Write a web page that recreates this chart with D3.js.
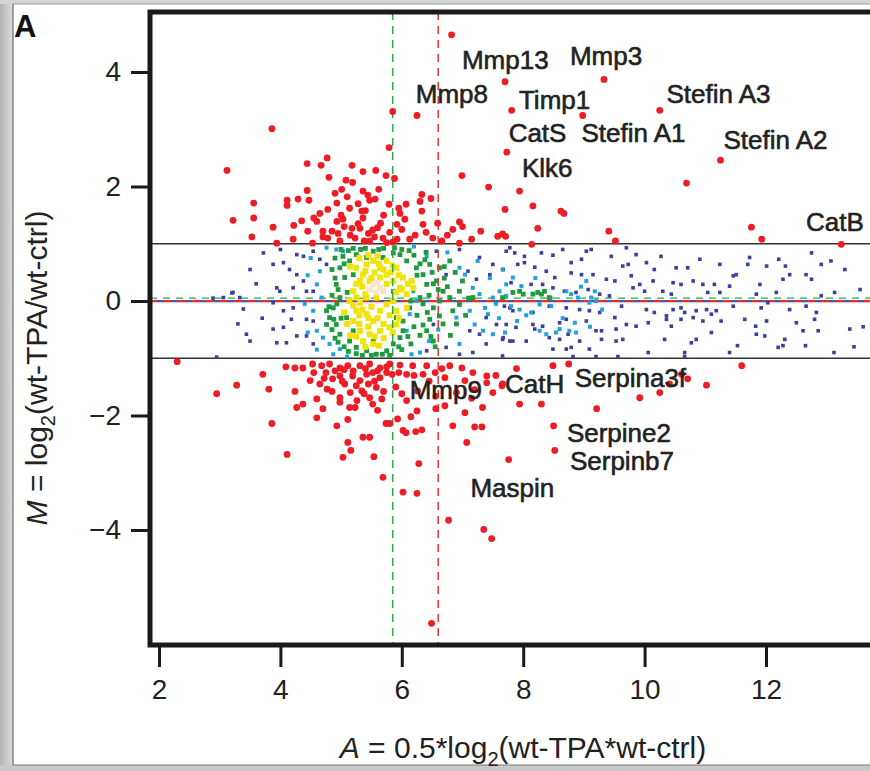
<!DOCTYPE html>
<html>
<head>
<meta charset="utf-8">
<script src="https://cdn.jsdelivr.net/npm/d3@7"></script>
<style>
  body { margin:0; background:#fff; }
  text { font-family: "Liberation Sans", Arial, sans-serif; }
</style>
</head>
<body>
<div id="plot"></div>
<script>
// MA plot, wt-TPA vs wt-ctrl

// significant genes (|M| > 1), [A, M]
var redPts = [
 [6.82,4.65],[7.70,3.83],[9.33,3.87],[7.81,3.33],[8.98,3.24],[10.25,3.33],[7.73,2.60],[11.25,2.46],
 [10.69,2.06],[7.94,1.92],[7.70,1.60],[8.16,1.66],[8.62,1.57],[8.67,1.53],[8.24,1.27],[7.66,1.17],
 [7.71,1.13],[8.14,0.99],[9.41,1.22],[9.52,1.05],[11.76,1.29],[11.93,1.08],[13.24,0.99],
 [5.85,3.31],[6.25,3.24],[3.86,3.01],[5.79,2.68],[3.12,2.28],[6.99,2.19],[7.43,1.99],
 [4.44,2.40],[4.67,2.37],[4.77,2.50],[5.18,2.37],[5.36,2.26],[5.57,2.28],[5.74,2.19],[5.88,2.14],
 [4.80,2.16],[5.08,2.11],[5.19,2.07],[5.01,1.95],[4.44,1.93],[5.36,1.92],[5.44,1.85],[4.11,1.76],
 [4.29,1.78],[4.47,1.76],[4.93,1.71],[5.47,1.76],[5.56,1.78],[3.56,1.71],[6.33,1.86],[6.48,1.79],
 [6.30,1.74],[5.79,1.69],[6.07,1.69],[4.11,1.67],[4.65,1.53],[4.78,1.60],[5.14,1.62],[5.34,1.57],
 [5.97,1.53],[6.33,1.57],[3.22,1.41],[3.56,1.45],[4.60,1.39],[4.93,1.39],[5.03,1.43],[5.36,1.45],
 [5.65,1.36],[5.92,1.34],[6.35,1.34],[6.59,1.36],[6.95,1.38],[3.88,1.29],[4.22,1.32],[4.45,1.22],
 [4.70,1.22],[5.18,1.27],[5.31,1.27],[5.52,1.24],[6.84,1.25],[7.30,1.22],[3.53,1.12],[3.94,1.01],
 [4.21,1.08],[4.53,1.01],[4.78,1.10],[4.98,1.05],[5.23,1.10],[5.47,1.05],[5.69,1.10],[5.92,1.08],
 [6.13,1.08],[6.51,1.10],[6.66,1.05],[6.95,1.01],[7.58,1.13],
 [4.85,1.22],[5.05,1.30],[5.28,1.35],[5.45,1.18],[5.60,1.28],[5.80,1.20],[6.00,1.25],[4.70,1.12],
 [5.15,1.15],[5.38,1.05],[5.55,1.12],[5.85,1.03],[6.22,1.15],[6.40,1.20],[6.05,1.43],[5.70,1.50],
 [5.40,1.58],[5.00,1.50],[4.55,1.45],[6.75,1.15],[7.00,1.30],[7.15,1.08],[5.10,1.82],[5.62,1.95],
 [4.90,1.88],[5.28,1.70],[5.95,1.62],[4.35,1.40],[4.95,1.18],[5.75,1.02],
 [2.30,-1.06],[2.95,-1.62],[3.28,-1.47],[3.71,-1.28],[3.81,-1.54],[3.86,-2.14],[4.11,-2.68],
 [4.09,-1.15],[4.24,-1.17],[4.37,-1.17],[4.24,-1.58],[4.27,-1.86],[4.37,-1.80],[4.60,-2.04],
 [4.60,-1.71],[4.70,-1.88],[4.53,-1.10],[4.68,-1.13],[4.81,-1.10],[4.98,-1.17],[5.11,-1.13],
 [5.31,-1.13],[5.47,-1.10],[5.64,-1.17],[5.80,-1.10],[5.97,-1.12],[6.08,-1.28],[6.18,-1.13],
 [6.41,-1.13],[6.35,-1.28],[4.49,-1.39],[4.65,-1.45],[4.77,-1.54],[4.86,-1.36],[4.98,-1.31],
 [5.06,-1.45],[5.19,-1.31],[5.31,-1.39],[5.42,-1.28],[5.52,-1.25],[5.64,-1.34],[5.75,-1.25],
 [5.84,-1.28],[4.98,-1.69],[4.98,-1.77],[5.14,-1.86],[5.23,-1.86],[5.26,-1.74],[5.34,-1.57],
 [5.47,-1.69],[5.52,-1.80],[5.58,-1.51],[5.60,-1.91],[5.67,-1.71],[5.11,-2.07],[4.93,-2.18],
 [5.11,-2.47],[5.16,-2.61],[5.03,-2.73],[5.36,-2.38],[5.47,-2.38],[5.54,-2.72],[5.69,-3.08],
 [5.74,-2.14],[5.80,-2.14],[5.93,-2.06],[6.02,-2.26],[6.07,-2.30],[6.23,-2.28],[6.33,-2.25],
 [6.15,-2.02],[6.25,-1.92],[6.00,-1.62],[6.08,-1.74],[6.26,-1.57],[6.56,-1.88],[6.71,-1.83],
 [6.84,-2.18],[7.04,-1.95],[7.07,-2.47],[7.20,-2.20],[7.32,-2.20],[7.33,-1.86],[7.76,-2.77],
 [6.28,-2.84],[6.02,-3.34],[6.25,-3.36],[6.77,-3.83],[7.35,-3.99],[7.48,-4.15],[6.49,-5.63],
 [6.66,-1.18],[6.79,-1.13],[6.99,-1.17],[7.17,-1.25],[7.04,-1.39],[7.40,-1.31],[7.40,-1.43],
 [7.50,-1.60],[7.65,-1.48],[6.71,-1.34],[6.56,-1.66],
 [7.89,-1.18],[7.66,-1.45],[7.94,-1.80],[8.30,-1.80],[8.49,-1.13],[8.75,-1.10],[8.50,-2.18],
 [8.52,-2.61],[9.21,-1.88],[9.92,-1.69],[10.25,-1.60],[10.41,-1.45],[10.61,-1.28],[10.71,-1.36],
 [11.02,-1.47],[11.60,-1.13],
 [4.75,-1.25],[4.90,-1.22],[5.05,-1.20],[5.20,-1.22],[5.40,-1.18],[5.60,-1.22],[5.75,-1.15],
 [5.95,-1.25],[6.20,-1.30],[6.45,-1.40],[4.55,-1.25],[4.85,-1.58],[5.15,-1.60],[5.45,-1.45],
 [5.70,-1.58],[5.90,-1.50],[6.55,-1.25],[7.20,-1.55],[7.55,-1.30],[6.90,-1.60],[7.15,-1.70],
 [5.25,-1.48],[5.38,-1.62],[5.02,-1.40],[4.72,-1.35],[5.55,-1.40]
];

// non-significant genes, coloured by point density
var bluePts = [
 [7.72,0.87],[7.86,0.84],[8.02,0.78],[8.30,0.84],[8.49,0.80],[8.65,0.90],[8.79,0.67],[8.96,0.73],
 [9.04,0.87],[9.12,0.90],[9.45,0.78],[9.70,0.93],[9.86,0.81],[10.03,0.67],[10.27,0.78],[10.16,0.55],
 [10.52,0.58],[10.71,0.58],[10.91,0.73],[11.24,0.64],[11.46,0.44],[11.70,0.64],[11.73,0.76],
 [12.01,0.61],[12.21,0.73],[12.32,0.61],[12.39,0.46],[12.75,0.84],[12.91,0.64],[13.07,0.70],
 [12.66,0.46],[12.75,0.38],[7.91,0.64],[8.02,0.67],[8.19,0.59],[8.38,0.52],[8.52,0.41],[8.79,0.49],
 [8.96,0.46],[9.15,0.46],[9.37,0.38],[9.51,0.35],[9.64,0.61],[9.73,0.64],[9.78,0.44],[9.92,0.29],
 [10.00,0.17],[10.14,0.35],[10.30,0.17],[10.44,0.12],[10.60,0.29],[10.80,0.35],[10.96,0.29],
 [11.15,0.29],[11.04,0.15],[11.24,0.15],[11.40,0.26],[11.51,0.46],[11.90,0.29],[11.84,0.12],
 [12.17,0.15],[12.28,0.38],[13.13,0.15],[12.91,0.09],[7.80,0.32],[8.13,0.29],[8.32,0.29],
 [8.49,0.23],[8.68,0.17],[8.87,0.15],[9.07,0.20],[9.26,0.12],[9.42,0.09],[9.81,0.23],[10.47,0.32],
 [7.69,-0.09],[7.83,-0.17],[8.16,-0.20],[8.43,-0.09],[8.71,-0.12],[8.93,-0.15],[9.09,-0.17],
 [9.26,-0.20],[9.51,-0.29],[9.62,-0.09],[10.03,-0.15],[10.16,-0.20],[10.36,-0.26],[10.47,-0.15],
 [10.60,-0.12],[10.66,-0.20],[10.85,-0.17],[11.02,-0.15],[11.18,-0.17],[11.46,-0.09],[11.65,-0.32],
 [11.92,-0.12],[12.03,-0.03],[12.39,-0.15],[12.50,-0.38],[12.66,-0.09],[12.83,-0.20],[12.80,-0.32],
 [13.38,-0.49],[7.72,-0.41],[7.88,-0.46],[8.16,-0.41],[8.19,-0.49],[8.32,-0.44],[8.60,-0.38],
 [8.71,-0.32],[9.04,-0.35],[9.20,-0.52],[9.29,-0.52],[9.53,-0.49],[9.70,-0.41],[9.86,-0.44],
 [10.06,-0.38],[10.36,-0.32],[10.44,-0.44],[10.60,-0.32],[10.80,-0.29],[10.96,-0.35],[11.10,-0.23],
 [11.26,-0.35],[11.83,-0.44],[12.01,-0.35],[11.84,-0.58],[11.98,-0.61],[12.31,-0.67],[12.61,-0.52],
 [12.86,-0.52],[7.66,-0.67],[7.83,-0.70],[8.05,-0.70],[8.43,-0.64],[8.60,-0.67],[8.74,-0.58],
 [8.93,-0.70],[9.29,-0.67],[9.53,-0.70],[9.64,-0.67],[10.33,-0.67],[10.77,-0.73],[10.85,-0.67],
 [11.10,-0.55],[11.53,-0.78],[12.20,-0.81],[12.28,-0.78],[12.65,-0.78],[13.12,-0.90],[8.49,-0.84],
 [8.71,-0.84],[8.79,-0.81],[9.09,-0.84],[9.20,-0.97],[9.56,-0.97],[10.06,-0.90],[10.66,-0.90],
 [10.66,-0.97],[11.40,-0.90],[8.82,-0.97],[7.66,-0.96],
 [3.72,0.84],[3.50,0.55],[3.88,0.64],[4.05,0.67],[4.27,0.81],[4.38,0.78],[4.54,0.87],[4.65,0.73],
 [4.76,0.64],[4.27,0.46],[4.38,0.35],[3.94,0.23],[3.99,0.17],[4.21,0.23],[4.43,0.17],[4.54,0.17],
 [3.22,0.15],[3.06,0.06],[3.33,0.06],[3.39,-0.14],[3.88,-0.03],[4.05,-0.17],[4.21,-0.12],
 [4.18,-0.32],[4.43,-0.32],[4.54,-0.35],[4.05,-0.46],[3.88,-0.49],[3.44,-0.58],[3.50,-0.70],
 [3.94,-0.73],[4.10,-0.73],[4.27,-0.61],[4.43,-0.61],[4.54,-0.75],[2.95,-0.98],[6.57,0.87],
 [6.95,0.90],[7.28,0.76],[7.50,0.64],[7.67,0.55],[7.78,0.93],[6.73,0.46],[7.09,0.52],[7.23,0.38],
 [7.45,0.46],[7.78,-0.12],[7.39,-0.29],[7.56,-0.41],[7.12,-0.52],[7.28,-0.58],[7.39,-0.75],
 [7.17,-0.90],[6.95,-0.93],[7.67,-0.64],[7.78,-0.70],[6.52,-0.41],[6.73,-0.81],[6.41,-0.87],
 [2.89,0.05],[3.20,0.14],[3.60,0.30],[3.70,-0.30],[3.30,-0.40],[4.15,0.55],[4.00,0.90],
 [13.55,0.20],[13.60,-0.45],[13.30,0.55],[13.45,-0.80]
];

var cyanPts = [
 [7.66,0.55],[7.83,0.41],[7.72,0.09],[7.97,0.26],[7.80,-0.09],[7.94,-0.15],[8.13,-0.20],
 [8.27,-0.06],[8.46,-0.09],[8.38,-0.58],[8.54,-0.55],[8.76,-0.52],[8.87,-0.55],[8.85,-0.38],
 [9.09,-0.03],[9.18,0.17],[9.04,0.35],[8.71,0.17],[8.79,0.12],[8.90,0.06],[9.12,0.06],[9.20,0.00],
 [8.27,-0.52],[8.60,-0.49],
 [4.76,0.93],[4.92,0.90],[5.03,0.87],[4.65,0.52],[4.60,0.29],[4.68,0.06],[4.54,-0.17],[4.60,-0.52],
 [4.70,-0.64],[4.81,-0.75],[4.87,-0.93],[4.98,-0.84],[6.19,0.17],[6.24,0.00],[6.13,-0.23],
 [6.08,-0.52],[6.16,-0.93],[6.41,0.78],[6.95,0.58],[7.04,0.46],[7.17,0.23],[7.28,0.12],
 [7.37,-0.12],[7.42,-0.23],[7.20,-0.41],[7.12,-0.17],[6.90,-0.29],[7.50,0.06],[7.61,0.17],
 [7.72,0.29],[7.34,-0.52],[7.50,-0.58],
 [4.50,0.75],[4.45,0.45],[4.40,-0.05],[4.45,-0.55],[4.60,-0.85],[5.10,-0.97],[6.30,-0.90],
 [6.45,-0.70],[6.60,-0.50],[7.25,0.70],[7.45,0.40],[7.55,-0.05],[7.60,-0.30],[7.70,-0.55],
 [7.90,-0.35],[8.05,-0.25],[8.20,0.40],[8.45,0.05],[8.65,-0.30],[8.95,0.25],[9.10,-0.45],
 [9.30,-0.15],[6.20,0.95],[6.75,0.85],[6.95,-0.75]
];

var greenPts = [
 [7.66,0.06],[7.83,0.15],[7.94,0.17],[8.00,0.12],[8.16,0.12],[8.24,0.15],[8.30,0.12],[8.35,0.17],
 [8.43,0.06],
 [5.03,0.78],[5.14,0.70],[5.25,0.81],[4.98,0.58],[5.06,0.41],[4.92,0.29],[5.20,0.46],[4.98,0.06],
 [4.87,-0.12],[4.81,-0.29],[4.92,-0.41],[4.98,-0.58],[5.14,-0.70],[5.25,-0.81],[5.42,-0.87],
 [5.58,-0.93],[5.75,-0.87],[5.86,-0.75],[5.97,-0.64],[6.02,-0.52],[6.02,-0.35],[6.13,-0.12],
 [6.30,0.06],[6.41,0.29],[6.35,0.46],[6.24,0.58],[6.08,0.70],[5.97,0.81],[5.86,0.84],[5.69,0.76],
 [5.53,0.87],[5.42,0.76],[6.46,0.64],[6.57,0.35],[6.68,0.17],[6.62,0.00],[6.52,-0.12],[6.46,-0.32],
 [6.62,-0.26],[6.84,-0.17],[6.95,-0.06],[6.79,0.06],[4.76,-0.17],[4.76,-0.41],[5.09,-0.29],
 [5.20,-0.52],[5.53,-0.70],[5.91,-0.29],[5.86,0.17],[7.17,0.06],[6.95,0.17],[6.52,-0.70],
 [6.41,-0.52],[6.62,0.58],[6.79,0.70],
 [4.85,0.55],[4.90,0.75],[5.00,0.90],[5.20,0.92],[5.40,0.92],[5.70,0.92],[6.00,0.90],[6.20,0.80],
 [6.30,0.65],[6.50,0.50],[6.70,0.40],[6.60,0.20],[6.45,0.10],[6.35,-0.05],[6.25,-0.25],
 [6.20,-0.45],[6.30,-0.60],[6.15,-0.75],[6.00,-0.85],[5.80,-0.95],[5.50,-0.95],[5.25,-0.92],
 [5.05,-0.80],[4.90,-0.65],[4.85,-0.50],[4.80,-0.10],[4.85,0.10],[4.90,0.40],[7.00,0.35],
 [7.10,0.05],[6.90,-0.40],[6.80,-0.60],[7.05,-0.25],[6.55,-0.80],[6.70,0.60],[6.40,0.85],
 [5.10,0.15],[5.00,-0.30],[6.15,0.00],[6.25,0.45],
 [5.12,0.88],[5.32,0.90],[5.62,0.90],[5.88,0.93],[6.12,0.88],[6.38,0.72],[6.52,0.30],
 [6.42,-0.20],[6.35,-0.42],[6.10,-0.62],[5.95,-0.80],[5.68,-0.93],[5.35,-0.95],[5.12,-0.88],
 [4.95,-0.72],[4.88,-0.32],[4.93,-0.05],[4.95,0.20],[5.05,0.65],[6.48,-0.62],[6.68,-0.40],
 [6.75,0.25],[6.88,0.50]
];

var yellowPts = [
 [5.25,0.58],[5.42,0.64],[5.53,0.70],[5.64,0.58],[5.75,0.46],[5.86,0.35],[5.97,0.23],[6.08,0.12],
 [6.02,0.41],[5.91,0.58],[5.31,0.35],[5.20,0.17],[5.14,0.00],[5.25,-0.17],[5.20,-0.35],[5.31,-0.52],
 [5.47,-0.58],[5.64,-0.52],[5.80,-0.46],[5.91,-0.41],[5.53,-0.35],[5.42,-0.23],[5.64,-0.17],
 [5.75,-0.06],[5.86,0.00],[5.58,0.06],[5.42,0.06],[5.31,-0.03],[5.47,0.35],[5.36,0.46],[6.08,-0.12],
 [6.16,0.35],[6.19,0.23],[5.91,-0.17],[5.53,-0.75],[5.36,-0.70],[5.25,0.06],[5.64,0.41],
 [5.30,0.75],[5.45,0.80],[5.60,0.78],[5.75,0.70],[5.85,0.62],[5.40,0.52],[5.55,0.50],[5.70,0.55],
 [5.82,0.50],[5.95,0.45],[6.10,0.30],[6.00,0.20],[5.35,0.25],[5.25,0.30],[5.40,0.12],[5.75,0.30],
 [5.90,0.15],[5.15,0.60],[5.50,0.40],[5.62,0.65],
 [5.05,-0.20],[5.10,-0.40],[5.15,-0.60],[5.30,-0.40],[5.35,-0.15],[5.45,-0.45],[5.50,-0.10],
 [5.55,-0.62],[5.60,-0.30],[5.70,-0.40],[5.70,-0.65],[5.80,-0.25],[5.85,-0.55],[5.25,-0.62],
 [5.40,-0.80],[5.62,-0.78],[5.95,-0.30],[5.30,-0.25],[5.45,-0.30],[5.20,-0.08]
];

var creamPts = [[5.53,0.29],[5.64,0.23],[5.58,0.15],[5.47,0.20],[5.69,0.17],[5.60,0.32]];

// labelled genes: name, A, M of text anchor
var geneNames = ["Mmp13","Mmp3","Mmp8","Timp1","Stefin A3","CatS","Stefin A1","Stefin A2","Klk6","CatB",
                 "Mmp9","CatH","Serpina3f","Serpine2","Serpinb7","Maspin"];
var geneA = [6.99,8.77,6.23,7.93,10.36,7.76,8.96,11.30,7.98,12.66,6.13,7.70,8.85,8.72,8.77,7.13];
var geneM = [4.06,4.13,3.45,3.36,3.45,2.77,2.77,2.65,2.16,1.22,-1.71,-1.60,-1.51,-2.46,-2.96,-3.43];

var xTicks = [2,4,6,8,10,12];
var yTicks = [-4,-2,0,2,4];
var cutoffA = [5.85, 6.6];   // green, red vertical cutoffs
var foldM = [-1, 1];

var W = 870, H = 771;
var box = {l:150, t:12, b:645, r:905};

var svg = d3.select('#plot').append('svg')
    .attr('width', W).attr('height', H);

// frame of the slide
svg.append('rect').attr('x',0).attr('y',0).attr('width',W).attr('height',H).attr('fill','#fff');
var grad = svg.append('defs').append('linearGradient').attr('id','side');
grad.append('stop').attr('offset','0%').attr('stop-color','#b4b4b4');
grad.append('stop').attr('offset','100%').attr('stop-color','#dcdcdc');
svg.append('rect').attr('x',0).attr('y',0).attr('width',13).attr('height',H).attr('fill','url(#side)');
svg.append('rect').attr('x',0).attr('y',0).attr('width',W).attr('height',4).attr('fill','#d4d4d4');
svg.append('rect').attr('x',0).attr('y',765).attr('width',W).attr('height',6).attr('fill','#c8c8c8');
svg.append('line').attr('x1',13).attr('x2',13).attr('y1',4).attr('y2',765).attr('stroke','#666').attr('stroke-width',1.2);
svg.append('line').attr('x1',13).attr('x2',W).attr('y1',4).attr('y2',4).attr('stroke','#999').attr('stroke-width',1);
svg.append('line').attr('x1',13).attr('x2',W).attr('y1',765).attr('y2',765).attr('stroke','#777').attr('stroke-width',1);

var x = d3.scaleLinear().domain([2,12]).range([159,766]);
var y = d3.scaleLinear().domain([-4,4]).range([530,72]);

var plot = svg.append('g');
plot.append('clipPath').attr('id','clip').append('rect')
    .attr('x',box.l).attr('y',box.t).attr('width',box.r-box.l).attr('height',box.b-box.t);
var inner = plot.append('g').attr('clip-path','url(#clip)');

// fold lines
inner.selectAll('.fold').data(foldM).enter().append('line')
    .attr('x1',box.l).attr('x2',box.r)
    .attr('y1',function(d){return y(d);}).attr('y2',function(d){return y(d);})
    .attr('stroke','#333').attr('stroke-width',1.4);

// M = 0 reference lines
inner.append('line').attr('x1',box.l).attr('x2',box.r).attr('y1',y(0)+1.5).attr('y2',y(0)+1.5)
    .attr('stroke','#d0d0d0').attr('stroke-width',1.5);
inner.append('line').attr('x1',box.l).attr('x2',box.r).attr('y1',y(0)).attr('y2',y(0))
    .attr('stroke','#4a56b0').attr('stroke-width',1.8);
inner.append('line').attr('x1',box.l).attr('x2',box.r).attr('y1',y(0)).attr('y2',y(0))
    .attr('stroke','#ee2a2a').attr('stroke-width',1.8).attr('stroke-dasharray','7,7');
inner.append('line').attr('x1',box.l).attr('x2',box.r).attr('y1',y(0.05)).attr('y2',y(0.05))
    .attr('stroke','#2aa84a').attr('stroke-width',1.3).attr('stroke-dasharray','7,6');

function squares(data, col, s) {
  inner.append('g').selectAll('rect').data(data).enter().append('rect')
    .attr('x',function(d){return x(d[0])-s/2;})
    .attr('y',function(d){return y(d[1])-s/2;})
    .attr('width',s).attr('height',s)
    .attr('fill',col);
}
squares(bluePts,'#3c3f9c',3.6);
squares(cyanPts,'#22a2dc',4);
squares(greenPts,'#1f9a3c',4.8);
squares(yellowPts,'#f0e40c',6);
squares(creamPts,'#f4e6c6',6);

// vertical cutoffs
inner.selectAll('.cut').data(cutoffA).enter().append('line')
    .attr('x1',function(d){return x(d);}).attr('x2',function(d){return x(d);})
    .attr('y1',box.t).attr('y2',box.b)
    .attr('stroke',function(d,i){return i==0?'#2aa84a':'#e8343a';})
    .attr('stroke-width',1.5).attr('stroke-dasharray','8,6');

inner.append('g').selectAll('circle').data(redPts).enter().append('circle')
    .attr('cx',function(d){return x(d[0]);})
    .attr('cy',function(d){return y(d[1]);})
    .attr('r',3.4)
    .attr('fill','#ee1c25');

// gene labels
inner.append('g').selectAll('text').data(geneNames).enter().append('text')
    .attr('x',function(d,i){return x(geneA[i]);})
    .attr('y',function(d,i){return y(geneM[i]);})
    .attr('font-size',26).attr('fill','#222')
    .attr('stroke','#222').attr('stroke-width',0.6)
    .text(function(d){return d;});

// box
plot.append('path')
    .attr('d','M'+(box.r)+','+box.t+'H'+box.l+'V'+box.b+'H'+box.r)
    .attr('fill','none').attr('stroke','#1a1a1a').attr('stroke-width',5);

// axes
var xAxis = d3.axisBottom(x).tickValues(xTicks).tickSize(20).tickPadding(12);
var gx = svg.append('g').attr('transform','translate(0,'+(box.b+2)+')').call(xAxis);
var yAxis = d3.axisLeft(y).tickValues(yTicks).tickSize(17).tickPadding(10);
var gy = svg.append('g').attr('transform','translate('+(box.l-2)+',0)').call(yAxis);
[gx,gy].forEach(function(g){
  g.select('.domain').remove();
  g.selectAll('.tick line').attr('stroke','#1a1a1a').attr('stroke-width',3);
  g.selectAll('.tick text').attr('font-size',28).attr('fill','#222')
    .attr('font-family','"Liberation Sans", Arial, sans-serif');
});

// axis titles
var xt = svg.append('text').attr('x',523).attr('y',758).attr('text-anchor','middle')
    .attr('font-size',30).attr('fill','#222');
xt.append('tspan').attr('font-style','italic').text('A');
xt.append('tspan').text(' = 0.5*log');
xt.append('tspan').attr('font-size',20).attr('dy',8).text('2');
xt.append('tspan').attr('dy',-8).text('(wt-TPA*wt-ctrl)');

var yt = svg.append('text').attr('transform','translate(47,368) rotate(-90)')
    .attr('text-anchor','middle').attr('font-size',30).attr('fill','#222');
yt.append('tspan').attr('font-style','italic').text('M');
yt.append('tspan').text(' = log');
yt.append('tspan').attr('font-size',20).attr('dy',8).text('2');
yt.append('tspan').attr('dy',-8).text('(wt-TPA/wt-ctrl)');

svg.append('text').attr('x',14).attr('y',37).attr('font-size',31).attr('font-weight','bold')
    .attr('fill','#111').text('A');
</script>
</body>
</html>
